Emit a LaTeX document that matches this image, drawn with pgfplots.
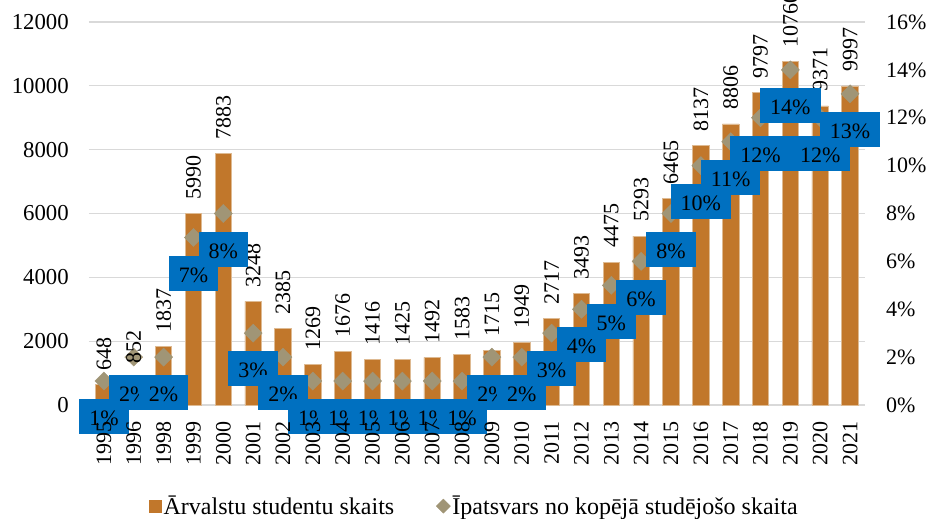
\documentclass[border=0pt]{standalone}
\usepackage{fontspec}
\setmainfont{Liberation Serif}
\usepackage{pgfplots}
\usepackage{pgfplotstable}
\pgfplotsset{compat=1.18}

\definecolor{barc}{RGB}{193,119,43}
\definecolor{baredge}{RGB}{222,186,146}
\definecolor{dia}{RGB}{160,149,118}
\definecolor{boxb}{RGB}{0,112,192}
\definecolor{gridc}{RGB}{217,217,217}
\newcommand\cf{\fontsize{22}{26}\selectfont}
\newcommand\tf{\fontsize{22.8}{27}\selectfont}
\newcommand\lf{\fontsize{24}{28}\selectfont}

\pgfplotstableread{
x year n p
0 1995 648 1
1 1996 852 2
2 1998 1837 2
3 1999 5990 7
4 2000 7883 8
5 2001 3248 3
6 2002 2385 2
7 2003 1269 1
8 2004 1676 1
9 2005 1416 1
10 2006 1425 1
11 2007 1492 1
12 2008 1583 1
13 2009 1715 2
14 2010 1949 2
15 2011 2717 3
16 2012 3493 4
17 2013 4475 5
18 2014 5293 6
19 2015 6465 8
20 2016 8137 10
21 2017 8806 11
22 2018 9797 12
23 2019 10760 14
24 2020 9371 12
25 2021 9997 13
}\data

\pgfplotsset{
  /pgf/number format/1000 sep={},
  /pgf/number format/assume math mode=true,
  base/.style={
    scale only axis, width=776pt, height=383pt,
    xmin=-0.5, xmax=25.5,
    at={(0,0)}, anchor=south west, clip=false,
    scaled ticks=false,
  },
}

\begin{document}
\begin{tikzpicture}
\path[use as bounding box] (-89pt,-114pt) rectangle (841pt,405pt);

% bars, left axis
\begin{axis}[base,
    ymin=0, ymax=12000,
    ytick={0,2000,...,12000},
    xtick=\empty,
    ymajorgrids,
    grid style={gridc, line width=1.3pt},
    axis line style={draw=none},
    major tick length=0pt,
    yticklabel style={font=\tf, anchor=east, inner xsep=0pt, xshift=-20pt},
]
\addplot[ybar, bar width=16.5pt, fill=barc, draw=baredge, line width=0.8pt]
  table[x=x, y=n] {\data};
\end{axis}

% share of all students, right axis
\begin{axis}[base,
    ymin=0, ymax=16,
    ytick={0,2,...,16},
    yticklabel pos=right,
    yticklabel={\pgfmathprintnumber{\tick}\%},
    xtick=\empty,
    axis line style={draw=none},
    major tick length=0pt,
    yticklabel style={font=\cf, anchor=west, inner xsep=0pt, xshift=21pt},
]
\addplot[only marks, mark=square*, mark size=6.4pt, mark options={rotate=45}, color=dia]
  table[x=x, y=p] {\data};
\end{axis}

% bar value labels
\begin{axis}[base, hide axis,
    ymin=0, ymax=12000,
    every node near coord/.style={rotate=90, anchor=west, inner xsep=14pt,
      inner ysep=0pt, font=\cf, text=black},
]
\addplot[draw=none, mark=none, nodes near coords, point meta=explicit]
  table[x=x, y=n, meta=n] {\data};
\end{axis}

% percent labels
\begin{axis}[base, hide axis,
    ymin=0, ymax=16,
    every node near coord/.style={anchor=north, yshift=-18pt, fill=boxb,
      text=black, font=\cf, inner xsep=10pt, inner ysep=0pt,
      minimum height=35pt, text height=18pt, text depth=0pt},
]
\addplot[draw=none, mark=none,
  nodes near coords={\pgfmathprintnumber{\pgfplotspointmeta}\%},
  point meta=explicit]
  table[x=x, y=p, meta=p] {\data};
\end{axis}

% year labels and legend on top
\begin{axis}[base,
    ymin=0, ymax=1,
    xtick={0,...,25},
    xticklabels from table={\data}{year},
    ytick=\empty,
    axis line style={draw=none},
    major tick length=0pt,
    xticklabel style={font=\cf, rotate=90, anchor=east, inner xsep=16pt, inner ysep=0pt},
    legend style={at={(axis description cs:0.497,-0.264)}, anchor=center,
      draw=none, fill=none, font=\lf, legend columns=2,
      /tikz/every even column/.append style={column sep=40pt}},
    legend cell align=left,
]
\addlegendimage{only marks, mark=square*, mark size=6pt, color=barc}
\addlegendentry{Ārvalstu studentu skaits}
\addlegendimage{only marks, mark=square*, mark size=5pt, mark options={rotate=45}, color=dia}
\addlegendentry{Īpatsvars no kopējā studējošo skaita}
\end{axis}
\end{tikzpicture}
\end{document}
